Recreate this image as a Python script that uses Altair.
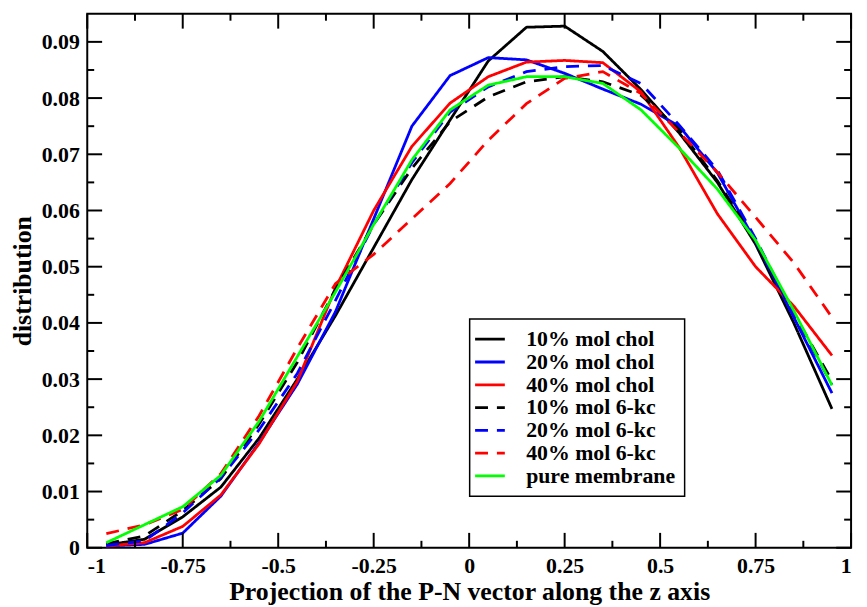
import altair as alt
import pandas as pd

# ---------------- data ----------------
x_vals = [-0.95, -0.85, -0.75, -0.65, -0.55, -0.45, -0.35, -0.25, -0.15, -0.05,
          0.05, 0.15, 0.25, 0.35, 0.45, 0.55, 0.65, 0.75, 0.85, 0.95]

chol10 = [0.0005, 0.0015, 0.0055, 0.0108, 0.0195, 0.0300, 0.0413, 0.0534, 0.0655, 0.0761,
          0.0866, 0.0926, 0.0928, 0.0883, 0.0815, 0.0738, 0.0650, 0.0540, 0.0400, 0.0247]
chol20 = [0.0003, 0.0006, 0.0026, 0.0092, 0.0187, 0.0291, 0.0420, 0.0585, 0.0750, 0.0840,
          0.0872, 0.0868, 0.0844, 0.0816, 0.0789, 0.0750, 0.0667, 0.0545, 0.0410, 0.0275]
chol40 = [0.0003, 0.0009, 0.0038, 0.0094, 0.0185, 0.0296, 0.0462, 0.0600, 0.0714, 0.0791,
          0.0838, 0.0864, 0.0867, 0.0863, 0.0811, 0.0712, 0.0594, 0.0500, 0.0430, 0.0342]
kc10 = [0.0007, 0.0021, 0.0066, 0.0123, 0.0220, 0.0330, 0.0460, 0.0575, 0.0675, 0.0758,
        0.0802, 0.0829, 0.0838, 0.0829, 0.0805, 0.0744, 0.0653, 0.0545, 0.0417, 0.0297]
kc20 = [0.0004, 0.0012, 0.0062, 0.0125, 0.0210, 0.0310, 0.0440, 0.0575, 0.0685, 0.0775,
        0.0820, 0.0847, 0.0856, 0.0858, 0.0826, 0.0752, 0.0672, 0.0550, 0.0415, 0.0290]
kc40 = [0.0025, 0.0041, 0.0068, 0.0132, 0.0235, 0.0355, 0.0470, 0.0522, 0.0585, 0.0648,
        0.0725, 0.0790, 0.0835, 0.0847, 0.0808, 0.0739, 0.0668, 0.0588, 0.0507, 0.0410]
pure = [0.0009, 0.0041, 0.0073, 0.0129, 0.0225, 0.0340, 0.0455, 0.0575, 0.0690, 0.0779,
        0.0823, 0.0838, 0.0838, 0.0826, 0.0779, 0.0711, 0.0638, 0.0547, 0.0422, 0.0289]

series_names = ["10% mol chol", "20% mol chol", "40% mol chol",
                "10% mol 6-kc", "20% mol 6-kc", "40% mol 6-kc", "pure membrane"]
series_values = [chol10, chol20, chol40, kc10, kc20, kc40, pure]
series_colors = ["#000000", "#0000ff", "#ff0000", "#000000", "#0000ff", "#ff0000", "#00ff00"]
series_dashes = [[1, 0], [1, 0], [1, 0], [13, 9], [13, 9], [13, 9], [1, 0]]

x_major = [-1, -0.75, -0.5, -0.25, 0, 0.25, 0.5, 0.75, 1]
x_minor = [-0.875, -0.625, -0.375, -0.125, 0.125, 0.375, 0.625, 0.875]
y_major = [0, 0.01, 0.02, 0.03, 0.04, 0.05, 0.06, 0.07, 0.08, 0.09]
y_minor = [0.005, 0.015, 0.025, 0.035, 0.045, 0.055, 0.065, 0.075, 0.085]

x_title = "Projection of the P-N vector along the z axis"
y_title = "distribution"

# ---------------- build ----------------
rows = []
for k, (name, vals) in enumerate(zip(series_names, series_values)):
    for xv, yv in zip(x_vals, vals):
        rows.append({"x": xv, "y": yv, "series": name, "k": k})
df = pd.DataFrame(rows)

W, H = 771, 539
FONT = "Liberation Serif"
MAJ, MIN = 15, 7

xscale = alt.Scale(domain=[-1, 1], nice=False, zero=False)
yscale = alt.Scale(domain=[0, 0.095], nice=False, zero=False)

xaxis = alt.Axis(values=x_major, ticks=False, domain=False, grid=False,
                 labelExpr="'' + datum.value", labelPadding=8,
                 title=x_title, titlePadding=2)
yaxis = alt.Axis(values=y_major, ticks=False, domain=False, grid=False,
                 labelExpr="'' + datum.value", labelPadding=8,
                 title=y_title, titlePadding=6)

X = alt.X("x:Q", scale=xscale, axis=xaxis, title=x_title)
Y = alt.Y("y:Q", scale=yscale, axis=yaxis, title=y_title)

legend_main = alt.Legend(orient="none", legendX=386, legendY=308, title=None,
                         symbolType="M-1.5,0H1.5", symbolSize=400,
                         symbolStrokeWidth=2.8,
                         labelFont=FONT, labelFontSize=22,
                         labelFontWeight="bold", labelColor="black",
                         labelOffset=25, padding=9, rowPadding=0,
                         strokeColor="black", fillColor="white",
                         labelLimit=300)

lines = alt.Chart(df).mark_line(strokeWidth=2.8).encode(
    x=X,
    y=Y,
    color=alt.Color("series:N",
                    scale=alt.Scale(domain=series_names, range=series_colors),
                    legend=legend_main),
    strokeDash=alt.StrokeDash("series:N",
                              scale=alt.Scale(domain=series_names, range=series_dashes),
                              legend=legend_main),
    order=alt.Order("k:Q"),
    detail="series:N",
)


def xticks(vals, length, top):
    d = pd.DataFrame({"x": vals})
    if top:
        yv, y2v = alt.value(0), alt.value(length)
    else:
        yv, y2v = alt.value(H), alt.value(H - length)
    return alt.Chart(d).mark_rule(color="black", strokeWidth=2).encode(
        x=X, y=yv, y2=y2v)


def yticks(vals, length, right):
    d = pd.DataFrame({"y": vals})
    if right:
        xv, x2v = alt.value(W), alt.value(W - length)
    else:
        xv, x2v = alt.value(0), alt.value(length)
    return alt.Chart(d).mark_rule(color="black", strokeWidth=2).encode(
        y=Y, x=xv, x2=x2v)


chart = alt.layer(
    lines,
    xticks(x_major, MAJ, False), xticks(x_minor, MIN, False),
    xticks(x_major, MAJ, True), xticks(x_minor, MIN, True),
    yticks(y_major, MAJ, False), yticks(y_minor, MIN, False),
    yticks(y_major, MAJ, True), yticks(y_minor, MIN, True),
).properties(
    width=W, height=H,
    autosize=alt.AutoSizeParams(type="none"),
    padding={"left": 80, "top": 3, "right": 8, "bottom": 58},
).configure_view(
    stroke="black", strokeWidth=2
).configure_axis(
    labelFont=FONT, labelFontSize=22, labelFontWeight="bold", labelColor="black",
    titleFont=FONT, titleFontSize=26, titleFontWeight="bold", titleColor="black",
).configure_legend(
    cornerRadius=0, strokeWidth=1.5
)

chart.save("out.html", embed_options={"renderer": "svg", "actions": False})
